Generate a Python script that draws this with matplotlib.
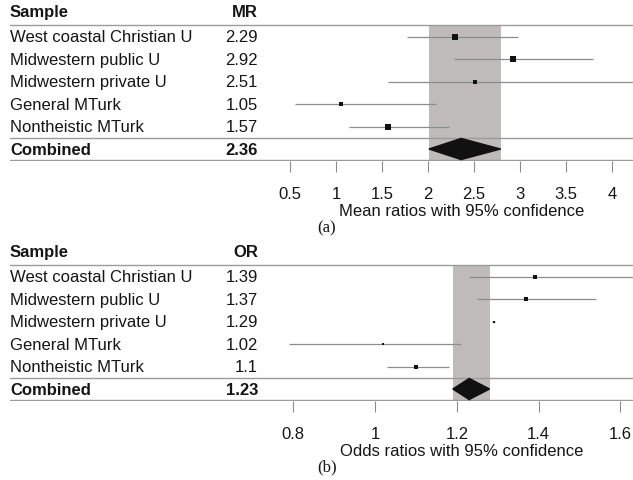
import matplotlib
matplotlib.use("Agg")
import matplotlib.pyplot as plt
from matplotlib.patches import Polygon

plt.rcParams['font.family'] = ['Liberation Sans', 'DejaVu Sans']

samples = ["West coastal Christian U", "Midwestern public U", "Midwestern private U",
           "General MTurk", "Nontheistic MTurk"]

# panel (a): mean ratios
mr = [2.29, 2.92, 2.51, 1.05, 1.57]
mr_lo = [1.77, 2.28, 1.57, 0.55, 1.14]
mr_hi = [2.98, 3.79, 4.40, 2.09, 2.23]
mr_size = [5.0, 4.5, 3.0, 3.5, 5.0]
mr_comb, mr_comb_lo, mr_comb_hi = 2.36, 2.01, 2.79
mr_ticks = [0.5, 1, 1.5, 2, 2.5, 3, 3.5, 4]
mr_ticklabels = ["0.5", "1", "1.5", "2", "2.5", "3", "3.5", "4"]

# panel (b): odds ratios
orr = [1.39, 1.37, 1.29, 1.02, 1.10]
or_lo = [1.23, 1.25, 1.286, 0.79, 1.03]
or_hi = [1.70, 1.54, 1.294, 1.21, 1.18]
or_size = [2.7, 3.0, 2.2, 2.5, 4.0]
or_comb, or_comb_lo, or_comb_hi = 1.23, 1.19, 1.28
or_ticks = [0.8, 1.0, 1.2, 1.4, 1.6]
or_ticklabels = ["0.8", "1", "1.2", "1.4", "1.6"]

W, H = 633, 481
fig = plt.figure(figsize=(W / 100, H / 100), dpi=100)

FS = 12
TXT = "#151515"
LINE = "#8c8c8c"
BAND = "#bfbbbb"


def forest(top_px, xlim, header, vals, lo, hi, sizes, comb, comb_lo, comb_hi,
           ticks, ticklabels, xlabel, tag, tag_y):
    left = 10
    ax = fig.add_axes([left / W, 1 - (top_px + 162) / H, (W - left) / W, 162 / H])
    ax.set_xlim(*xlim)
    ax.set_ylim(5.533, -1.667)
    for s in ["top", "right", "left", "bottom"]:
        ax.spines[s].set_visible(False)
    ax.set_yticks([])
    ax.set_xticks(ticks)
    ax.set_xticklabels(ticklabels)
    ax.tick_params(axis="x", length=8, width=0.8, color=LINE, pad=10,
                   labelsize=FS, labelcolor=TXT)
    ax.set_xlabel(xlabel, fontsize=FS, color=TXT)
    ax.xaxis.set_label_coords((462 - left) / (W - left), -0.26)

    # confidence band for combined estimate
    ax.fill_between([comb_lo, comb_hi], -0.5, 5.5, color=BAND, lw=0, zorder=1)

    for yy in [-0.5, 4.5, 5.5]:
        ax.axhline(yy, color="#9a9a9a", lw=1.0, zorder=2)

    rows = list(range(len(vals)))
    ax.hlines(rows, lo, hi, color=LINE, lw=0.9, zorder=3)
    for r, v, s in zip(rows, vals, sizes):
        ax.plot(v, r, marker="s", ms=s * 0.85, color="#111111", mew=0, zorder=4)

    d = Polygon([(comb_lo, 5), (comb, 4.53), (comb_hi, 5), (comb, 5.47)],
                closed=True, color="#111111", zorder=4)
    ax.add_patch(d)

    tr = ax.get_yaxis_transform()
    vx = (258 - left) / (W - left)
    ax.text(0, -1.12, "Sample", transform=tr, fontsize=FS, fontweight="bold",
            color=TXT, va="center", ha="left")
    ax.text(vx, -1.12, header, transform=tr, fontsize=FS, fontweight="bold",
            color=TXT, va="center", ha="right")
    for r, name, v in zip(rows, samples, vals):
        ax.text(0, r, name, transform=tr, fontsize=FS, color=TXT, va="center", ha="left")
        ax.text(vx, r, f"{v:g}", transform=tr, fontsize=FS, color=TXT,
                va="center", ha="right")
    ax.text(0, 5, "Combined", transform=tr, fontsize=FS, fontweight="bold",
            color=TXT, va="center", ha="left")
    ax.text(vx, 5, f"{comb:g}", transform=tr, fontsize=FS, fontweight="bold",
            color=TXT, va="center", ha="right")

    fig.text(327 / W, 1 - tag_y / H, tag, fontsize=FS, family="Liberation Serif",
             color=TXT, ha="center", va="center")
    return ax


forest(0, (-2.543, 4.228), "MR", mr, mr_lo, mr_hi, mr_size, mr_comb, mr_comb_lo,
       mr_comb_hi, mr_ticks, mr_ticklabels, "Mean ratios with 95% confidence", "(a)", 228)
forest(240, (0.1073, 1.6306), "OR", orr, or_lo, or_hi, or_size, or_comb, or_comb_lo,
       or_comb_hi, or_ticks, or_ticklabels, "Odds ratios with 95% confidence", "(b)", 467)

fig.savefig("out.png", dpi=100, facecolor="white")
